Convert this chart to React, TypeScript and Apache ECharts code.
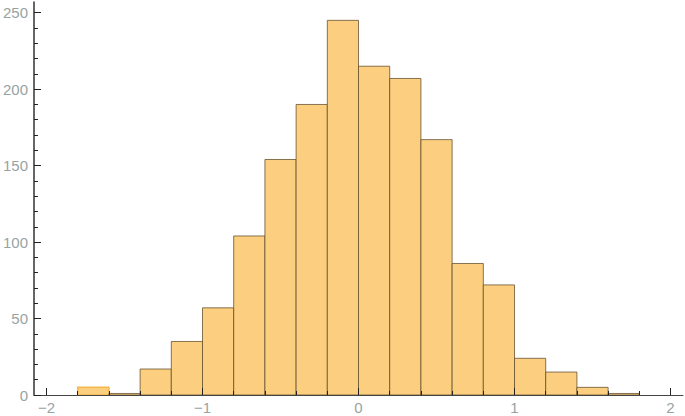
import React, { useEffect, useRef } from "react";
import * as echarts from "echarts";

const binStarts = [-1.8, -1.6, -1.4, -1.2, -1.0, -0.8, -0.6, -0.4, -0.2, 0.0, 0.2, 0.4, 0.6, 0.8, 1.0, 1.2, 1.4, 1.6];
const binWidth = 0.2;
const counts = [5, 1, 17, 35, 57, 104, 154, 190, 245, 215, 207, 167, 86, 72, 24, 15, 5, 1];
const xMajorTicks = [-2, -1, 0, 1, 2];
const xMinorTicks = [-1.8, -1.6, -1.4, -1.2, -0.8, -0.6, -0.4, -0.2, 0.2, 0.4, 0.6, 0.8, 1.2, 1.4, 1.6, 1.8];
const yMajorTicks = [0, 50, 100, 150, 200, 250];
const yMinorTicks = [10, 20, 30, 40, 60, 70, 80, 90, 110, 120, 130, 140, 160, 170, 180, 190, 210, 220, 230, 240];

const FILL = "#FCCF80";
const EDGE = "rgba(95,75,40,0.75)";
const LABEL = "#97A3A3";
const AXIS = "#444";
const FONT = "Liberation Sans";

export default function App() {
  const ref = useRef<HTMLDivElement>(null);
  useEffect(() => {
    if (!ref.current) return;
    const chart = echarts.init(ref.current, undefined, { renderer: "svg" });
    const data = binStarts.map((s, i) => [s, +(s + binWidth).toFixed(2), counts[i]]);
    const xBase = { type: "value", position: "bottom", min: -2.08, max: 2.08, splitLine: { show: false } };
    const yBase = { type: "value", position: "left", min: 0, max: 257, splitLine: { show: false } };
    chart.setOption({
      animation: false,
      grid: { left: 34, right: 2, top: 2, bottom: 21, containLabel: false },
      xAxis: [
        {
          ...xBase,
          z: 10,
          axisLine: { show: true, onZero: false, lineStyle: { color: AXIS, width: 1 } },
          axisTick: { show: true, inside: true, length: 7, customValues: xMajorTicks, lineStyle: { color: "#222", width: 1 } },
          axisLabel: { show: true, customValues: xMajorTicks, color: LABEL, fontSize: 15, fontFamily: FONT, margin: 5,
            formatter: (v: number) => (v < 0 ? "\u2212" + Math.abs(v) : String(v)) },
        },
        {
          ...xBase,
          z: 10,
          axisLine: { show: false, onZero: false },
          axisTick: { show: true, inside: true, length: 4, customValues: xMinorTicks, lineStyle: { color: "#222", width: 1 } },
          axisLabel: { show: false },
        },
      ],
      yAxis: [
        {
          ...yBase,
          z: 10,
          axisLine: { show: true, onZero: false, lineStyle: { color: "#333", width: 1.5 } },
          axisTick: { show: true, inside: true, length: 7, customValues: yMajorTicks, lineStyle: { color: "#222", width: 1 } },
          axisLabel: { show: true, customValues: yMajorTicks, color: LABEL, fontSize: 15, fontFamily: FONT, margin: 6 },
        },
        {
          ...yBase,
          z: 10,
          axisLine: { show: false, onZero: false },
          axisTick: { show: true, inside: true, length: 4, customValues: yMinorTicks, lineStyle: { color: "#222", width: 1 } },
          axisLabel: { show: false },
        },
      ],
      series: [
        {
          type: "custom",
          xAxisIndex: 0,
          yAxisIndex: 0,
          data,
          renderItem: (params: any, api: any) => {
            const x0 = api.value(0);
            const x1 = api.value(1);
            const y = api.value(2);
            const p0 = api.coord([x0, y]);
            const p1 = api.coord([x1, 0]);
            const first = params.dataIndex === 0;
            return {
              type: "rect",
              shape: { x: p0[0], y: p0[1], width: p1[0] - p0[0], height: p1[1] - p0[1] },
              style: { fill: FILL, stroke: first ? "#F5B84A" : EDGE, lineWidth: first ? 1.5 : 1 },
            };
          },
        },
      ],
    });
    return () => chart.dispose();
  }, []);
  return <div ref={ref} style={{ width: 685, height: 416, position: "absolute", left: 0, top: 0 }} />;
}
